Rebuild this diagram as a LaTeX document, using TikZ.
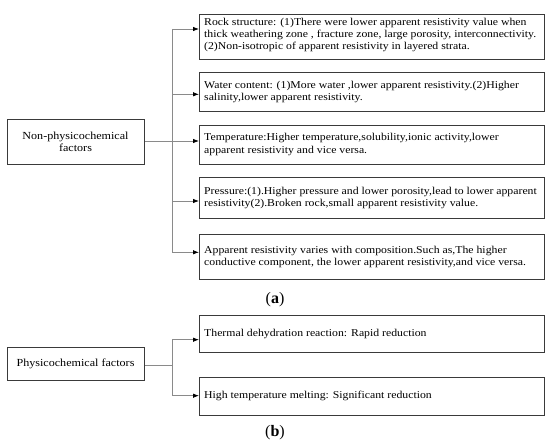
\documentclass[tikz,border=0pt]{standalone}
\usepackage{fontspec}
\setmainfont{Liberation Serif}[FakeStretch=1.12]
\newfontfamily\capfont{Liberation Serif}
\usetikzlibrary{arrows.meta}
\definecolor{boxc}{HTML}{3A3A3A}
\definecolor{linec}{HTML}{8A8A8A}
\begin{document}
\begin{tikzpicture}[x=1pt,y=-1pt]
\tikzset{
  box/.style={draw=boxc, line width=1pt, anchor=north west, inner sep=0pt, minimum width=345pt},
  lbox/.style={draw=boxc, line width=1pt, anchor=north west, inner sep=0pt, minimum width=137pt},
  txt/.style={anchor=west, inner sep=0pt, align=left, font=\fontsize{10.5pt}{12.2pt}\selectfont},
  ltxt/.style={inner sep=0pt, align=center, font=\fontsize{10.8pt}{12.6pt}\selectfont},
  conn/.style={draw=linec, line width=0.8pt},
  arr/.style={conn, -{Latex[length=6pt,width=4.5pt,fill=black,color=black]}},
  captext/.style={font=\capfont\fontsize{16pt}{18pt}\selectfont, inner sep=0pt}
}
\useasboundingbox (0,0) rectangle (550,446);
\fill[white] (0,0) rectangle (550,446);
% part (a)
\node[lbox, minimum height=44.7pt] (n) at (7,119.3) {};
\node[ltxt] (nt) at (75.5,142) {Non-physicochemical\\factors};
\node[box, minimum height=44.5pt] (r1) at (199,14.5) {};
\node[box, minimum height=39.3pt] (r2) at (199,71.7) {};
\node[box, minimum height=39.3pt] (r3) at (199,124.7) {};
\node[box, minimum height=41pt] (r4) at (199,177) {};
\node[box, minimum height=45pt] (r5) at (199,233.7) {};
\node[txt] (t1) at (204,35) {Rock structure: (1)There were lower apparent resistivity value when\\thick weathering zone , fracture zone, large porosity, interconnectivity.\\(2)Non-isotropic of apparent resistivity in layered strata.};
\node[txt] (t2) at (204,92) {Water content: (1)More water ,lower apparent resistivity.(2)Higher\\salinity,lower apparent resistivity.};
\node[txt] (t3) at (204,144.5) {Temperature:Higher temperature,solubility,ionic activity,lower\\apparent resistivity and vice versa.};
\node[txt] (t4) at (204,198) {Pressure:(1).Higher pressure and lower porosity,lead to lower apparent\\resistivity(2).Broken rock,small apparent resistivity value.};
\node[txt] (t5) at (204,257) {Apparent resistivity varies with composition.Such as,The higher\\conductive component, the lower apparent resistivity,and vice versa.};
\coordinate (ja) at (172,141);
\coordinate (a1) at (172,29);
\coordinate (a2) at (172,94.3);
\coordinate (a4) at (172,201);
\coordinate (a5) at (172,252.3);
\draw[conn] (n.east |- ja) -- (ja);
\draw[conn] (a1) -- (a5);
\draw[arr] (a1) -- (a1 -| r1.west);
\draw[arr] (a2) -- (a2 -| r2.west);
\draw[arr] (ja) -- (ja -| r3.west);
\draw[arr] (a4) -- (a4 -| r4.west);
\draw[arr] (a5) -- (a5 -| r5.west);
\node[captext] (capa) at (275,300) {(\textbf{a})};
% part (b)
\node[lbox, minimum height=32.4pt] (p) at (7,347.3) {};
\node[ltxt] (pt) at (75.5,363.7) {Physicochemical factors};
\node[box, minimum height=37.3pt] (s1) at (199,314.7) {};
\node[box, minimum height=38.3pt] (s2) at (199,377) {};
\node[txt] (u1) at (204,334) {Thermal dehydration reaction: Rapid reduction};
\node[txt] (u2) at (204,396.3) {High temperature melting: Significant reduction};
\coordinate (jb) at (172,365.3);
\coordinate (b1) at (172,339.7);
\coordinate (b2) at (172,395.7);
\draw[conn] (p.east |- jb) -- (jb);
\draw[conn] (b1) -- (b2);
\draw[arr] (b1) -- (b1 -| s1.west);
\draw[arr] (b2) -- (b2 -| s2.west);
\node[captext] (capb) at (275,433) {(\textbf{b})};
\end{tikzpicture}
\end{document}
